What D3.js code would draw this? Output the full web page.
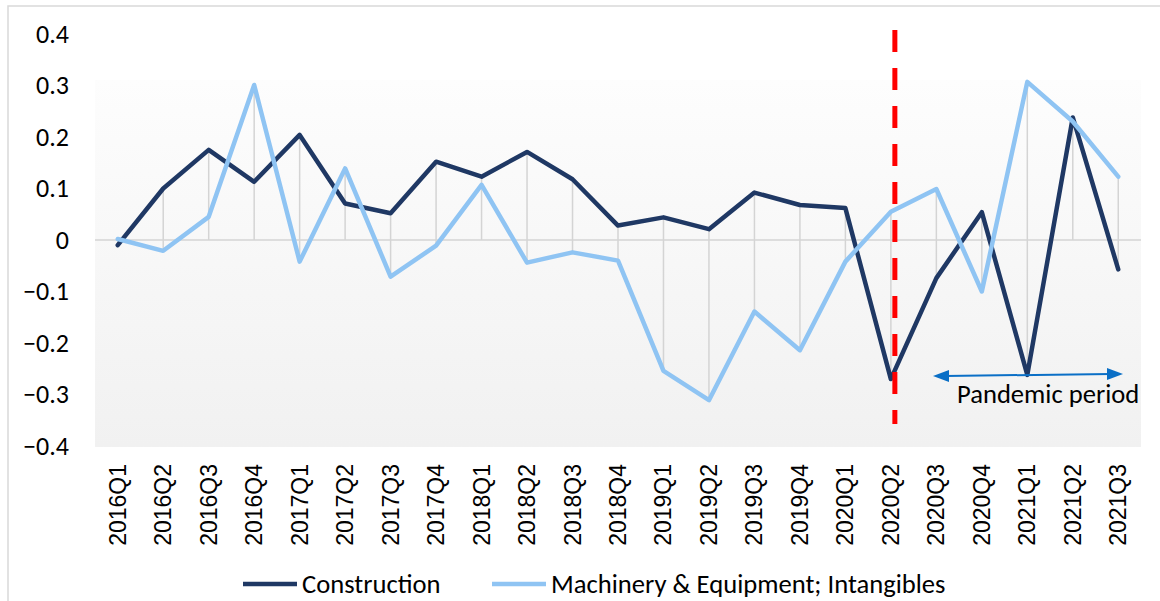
<!DOCTYPE html>
<html>
<head>
<meta charset="utf-8">
<script src="https://cdn.jsdelivr.net/npm/d3@7"></script>
<style>
  body { margin: 0; background: #fff; }
  svg { display: block; }
</style>
</head>
<body>
<svg id="chart" width="1160" height="601"></svg>
<script>
// quarters on the x axis
const quarters = ["2016Q1","2016Q2","2016Q3","2016Q4","2017Q1","2017Q2","2017Q3","2017Q4",
  "2018Q1","2018Q2","2018Q3","2018Q4","2019Q1","2019Q2","2019Q3","2019Q4",
  "2020Q1","2020Q2","2020Q3","2020Q4","2021Q1","2021Q2","2021Q3"]

// series values
const construction = [-0.010, 0.100, 0.175, 0.113, 0.204, 0.071, 0.052, 0.152,
  0.123, 0.171, 0.118, 0.028, 0.044, 0.021, 0.092, 0.068,
  0.062, -0.270, -0.074, 0.054, -0.262, 0.238, -0.057]
const machinery = [0.002, -0.021, 0.045, 0.301, -0.042, 0.139, -0.071, -0.011,
  0.107, -0.044, -0.024, -0.040, -0.254, -0.311, -0.139, -0.214,
  -0.042, 0.055, 0.099, -0.100, 0.307, 0.230, 0.123]

const yTicks = [0.4, 0.3, 0.2, 0.1, 0, -0.1, -0.2, -0.3, -0.4]
const seriesNames = ["Construction", "Machinery & Equipment; Intangibles"]
const seriesColors = ["#1f3864", "#8fc4f3"]
const pandemicStart = "2020Q2"
const pandemicLabel = "Pandemic period"

const calibri = "Carlito, Calibri, 'Open Sans', sans-serif"

const svg = d3.select("#chart")
const left = 95, right = 1141, plotTop = 80, plotBottom = 447

const x = d3.scalePoint().domain(quarters).range([left, right]).padding(0.5)
const y = d3.scaleLinear().domain([-0.4, 0.4]).range([446, 34])

// outer chart border (only top and left visible)
svg.append("path")
  .attr("d", "M8,601 V6 H1160")
  .attr("fill", "none")
  .attr("stroke", "#d9d9d9")
  .attr("stroke-width", 1.5)

// plot area gradient
const defs = svg.append("defs")
const grad = defs.append("linearGradient").attr("id", "bg")
  .attr("x1", 0).attr("y1", 0).attr("x2", 0).attr("y2", 1)
grad.append("stop").attr("offset", "0%").attr("stop-color", "#fdfdfd")
grad.append("stop").attr("offset", "100%").attr("stop-color", "#f1f1f1")

svg.append("rect")
  .attr("x", left).attr("y", plotTop)
  .attr("width", right - left).attr("height", plotBottom - plotTop)
  .attr("fill", "url(#bg)")

// drop lines
const rows = quarters.map((q, i) => ({q: q, c: construction[i], m: machinery[i]}))
svg.append("g").selectAll("line")
  .data(rows)
  .enter().append("line")
  .attr("x1", d => x(d.q)).attr("x2", d => x(d.q))
  .attr("y1", d => y(Math.max(0, d.c, d.m)))
  .attr("y2", d => y(Math.min(0, d.c, d.m)))
  .attr("stroke", "#d4d4d4")
  .attr("stroke-width", 1.5)

// zero line
svg.append("line")
  .attr("x1", left).attr("x2", right)
  .attr("y1", y(0)).attr("y2", y(0))
  .attr("stroke", "#d4d4d4")
  .attr("stroke-width", 1.5)

// y axis labels
svg.append("g").selectAll("text")
  .data(yTicks)
  .enter().append("text")
  .attr("x", 69)
  .attr("y", d => y(d))
  .attr("dy", "0.34em")
  .attr("text-anchor", "end")
  .style("font-family", calibri)
  .style("font-size", "26px")
  .attr("fill", "#000")
  .text(d => d === 0 ? "0" : d3.format(".1f")(d))

// x axis labels (rotated)
svg.append("g").selectAll("text")
  .data(quarters)
  .enter().append("text")
  .attr("transform", d => "translate(" + (x(d) + 8) + ",464) rotate(-90)")
  .attr("text-anchor", "end")
  .style("font-family", "'Liberation Sans', Arial, sans-serif")
  .style("font-size", "23px")
  .attr("fill", "#000")
  .text(d => d)

// lines
const line = d3.line().x((d, i) => x(quarters[i])).y(d => y(d))
;[construction, machinery].forEach((s, k) => {
  svg.append("path")
    .datum(s)
    .attr("d", line)
    .attr("fill", "none")
    .attr("stroke", seriesColors[k])
    .attr("stroke-width", 4.5)
    .attr("stroke-linejoin", "round")
    .attr("stroke-linecap", "round")
})

// red dashed line at pandemic start
svg.append("line")
  .attr("x1", x(pandemicStart) + 4).attr("x2", x(pandemicStart) + 4)
  .attr("y1", 30).attr("y2", 424)
  .attr("stroke", "#ff0000")
  .attr("stroke-width", 5)
  .attr("stroke-dasharray", "22,16")

// double arrow
const arrowColor = "#0a6fc6"
const ax1 = 933, ay1 = 376, ax2 = 1123, ay2 = 374
svg.append("line")
  .attr("x1", ax1 + 12).attr("y1", ay1)
  .attr("x2", ax2 - 12).attr("y2", ay2)
  .attr("stroke", arrowColor)
  .attr("stroke-width", 2)
svg.append("path")
  .attr("d", `M${ax1},${ay1} l16,-6 v12 z`)
  .attr("fill", arrowColor)
svg.append("path")
  .attr("d", `M${ax2},${ay2} l-16,-6 v12 z`)
  .attr("fill", arrowColor)

svg.append("text")
  .attr("x", 957).attr("y", 403)
  .style("font-family", calibri)
  .style("font-size", "26.6px")
  .attr("fill", "#000")
  .text(pandemicLabel)

// legend
const legendX = [243, 492]
const legend = svg.append("g").selectAll("g")
  .data(seriesNames)
  .enter().append("g")
  .attr("transform", (d, i) => "translate(" + legendX[i] + ",0)")

legend.append("line")
  .attr("x1", 0).attr("x2", 54)
  .attr("y1", 584).attr("y2", 584)
  .attr("stroke", (d, i) => seriesColors[i])
  .attr("stroke-width", 4.5)

legend.append("text")
  .attr("x", 59).attr("y", 592.5)
  .style("font-family", calibri)
  .style("font-size", "26.6px")
  .attr("fill", "#000")
  .text(d => d)
</script>
</body>
</html>
